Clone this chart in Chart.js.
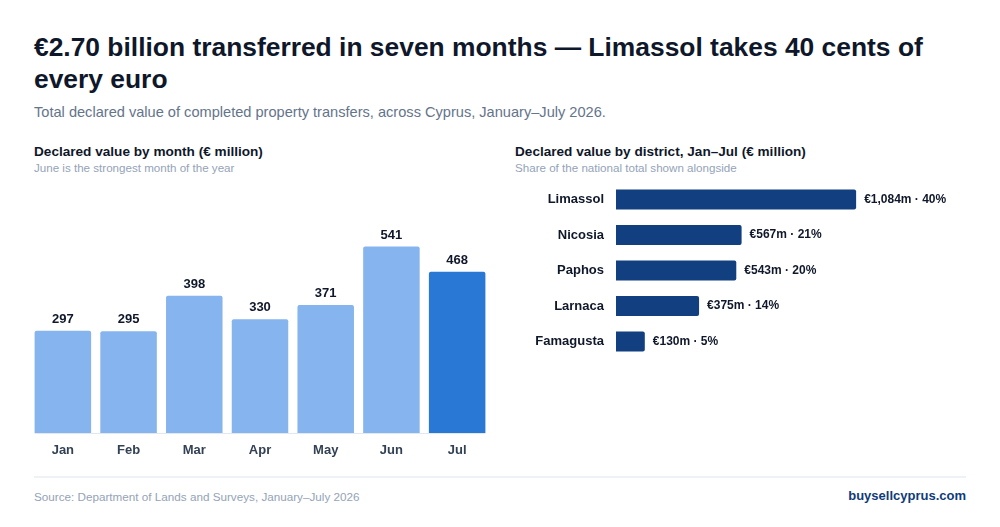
<!DOCTYPE html>
<html>
<head>
<meta charset="utf-8">
<script src="https://cdn.jsdelivr.net/npm/chart.js@4"></script>
<style>
  html, body { margin: 0; padding: 0; background: #fff; }
  body { width: 1000px; height: 527px; position: relative; overflow: hidden; font-family: "Liberation Sans", Arial, sans-serif; }
  .abs { position: absolute; }
  h1 { position: absolute; left: 34px; top: 31px; width: 932px; margin: 0; font-size: 26.4px; line-height: 32px; font-weight: bold; color: #0f172a; }
  .sub { left: 34px; top: 104px; font-size: 14.6px; color: #64748b; }
  .ph { font-size: 13.6px; font-weight: bold; color: #0f172a; }
  .ps { font-size: 11.6px; color: #94a3b8; }
  .rule { left: 34px; top: 476px; width: 932px; height: 2px; background: #eef2f6; }
  .src { left: 34px; top: 490px; font-size: 11.7px; color: #94a3b8; }
  .brand { right: 34px; top: 488px; font-size: 13px; font-weight: bold; color: #0f3b7a; }
</style>
</head>
<body>
<h1>€2.70 billion transferred in seven months — Limassol takes 40 cents of every euro</h1>
<div class="abs sub">Total declared value of completed property transfers, across Cyprus, January–July 2026.</div>

<div class="abs ph" style="left:34px;top:144px">Declared value by month (€ million)</div>
<div class="abs ps" style="left:34px;top:161px">June is the strongest month of the year</div>
<div class="abs ph" style="left:515px;top:144px">Declared value by district, Jan–Jul (€ million)</div>
<div class="abs ps" style="left:515px;top:161px">Share of the national total shown alongside</div>

<div class="abs" style="left:30px;top:190px;width:460px;height:275px"><canvas id="monthChart"></canvas></div>
<div class="abs" style="left:515px;top:162px;width:451px;height:217px"><canvas id="districtChart"></canvas></div>

<div class="abs rule"></div>
<div class="abs src">Source: Department of Lands and Surveys, January–July 2026</div>
<div class="abs brand">buysellcyprus.com</div>

<script>
// Monthly declared value (€ million)
const months = ['Jan', 'Feb', 'Mar', 'Apr', 'May', 'Jun', 'Jul'];
const monthValues = [297, 295, 398, 330, 371, 541, 468];

// District totals Jan–Jul (€ million) and share of national total (%)
const districts = ['Limassol', 'Nicosia', 'Paphos', 'Larnaca', 'Famagusta'];
const districtValues = [1084, 567, 543, 375, 130];
const districtShares = [40, 21, 20, 14, 5];

const FONT = '"Liberation Sans", Arial, sans-serif';

// draws value labels next to each bar
const valueLabels = {
    id: 'valueLabels',
    afterDatasetsDraw(chart, args, opts) {
        const ctx = chart.ctx;
        const meta = chart.getDatasetMeta(0);
        ctx.save();
        ctx.font = 'bold ' + opts.size + 'px ' + FONT;
        ctx.fillStyle = '#0f172a';
        meta.data.forEach((bar, i) => {
            const text = opts.format(i);
            if (chart.options.indexAxis === 'y') {
                ctx.textAlign = 'left';
                ctx.textBaseline = 'middle';
                ctx.fillText(text, bar.x + 8, bar.y);
            } else {
                ctx.textAlign = 'center';
                ctx.textBaseline = 'bottom';
                ctx.fillText(text, bar.x, bar.y - 5);
            }
        });
        ctx.restore();
    }
};

// light baseline running under the bars only
const baseline = {
    id: 'baseline',
    afterDatasetsDraw(chart) {
        const bars = chart.getDatasetMeta(0).data;
        const first = bars[0], last = bars[bars.length - 1];
        const ctx = chart.ctx;
        const y = chart.chartArea.bottom + 0.5;
        ctx.save();
        ctx.strokeStyle = '#e2e8f0';
        ctx.lineWidth = 1;
        ctx.beginPath();
        ctx.moveTo(first.x - first.width / 2, y);
        ctx.lineTo(last.x + last.width / 2, y);
        ctx.stroke();
        ctx.restore();
    }
};

Chart.defaults.font.family = FONT;
Chart.defaults.animation = false;

new Chart(document.getElementById('monthChart'), {
    type: 'bar',
    data: {
        labels: months,
        datasets: [{
            data: monthValues,
            backgroundColor: months.map((m, i) => i === months.length - 1 ? '#2a78d6' : '#86b4ef'),
            borderRadius: 2,
            borderSkipped: 'start',
            barPercentage: 0.86,
            categoryPercentage: 1
        }]
    },
    options: {
        responsive: true,
        maintainAspectRatio: false,
        layout: { padding: 0 },
        plugins: {
            legend: { display: false },
            tooltip: { enabled: false },
            valueLabels: { size: 13, format: i => String(monthValues[i]) }
        },
        scales: {
            x: {
                grid: { display: false, drawTicks: false },
                border: { display: false },
                ticks: { color: '#334155', padding: 10, font: { size: 13, weight: 'bold' } },
                afterFit: scale => { scale.height = 32; }
            },
            y: {
                display: false,
                min: 0,
                max: 705
            }
        }
    },
    plugins: [valueLabels, baseline]
});

new Chart(document.getElementById('districtChart'), {
    type: 'bar',
    data: {
        labels: districts,
        datasets: [{
            data: districtValues,
            backgroundColor: '#113f80',
            borderRadius: 2,
            borderSkipped: 'start',
            barPercentage: 0.56,
            categoryPercentage: 1
        }]
    },
    options: {
        indexAxis: 'y',
        responsive: true,
        maintainAspectRatio: false,
        layout: { padding: 0 },
        plugins: {
            legend: { display: false },
            tooltip: { enabled: false },
            valueLabels: {
                size: 12,
                format: i => '€' + districtValues[i].toLocaleString('en-US') + 'm · ' + districtShares[i] + '%'
            }
        },
        scales: {
            x: { display: false, min: 0, max: 1580 },
            y: {
                grid: { display: false, drawTicks: false },
                border: { display: false },
                ticks: { color: '#0f172a', padding: 12, font: { size: 13, weight: 'bold' } },
                afterFit: scale => { scale.width = 101; }
            }
        }
    },
    plugins: [valueLabels]
});
</script>
</body>
</html>
